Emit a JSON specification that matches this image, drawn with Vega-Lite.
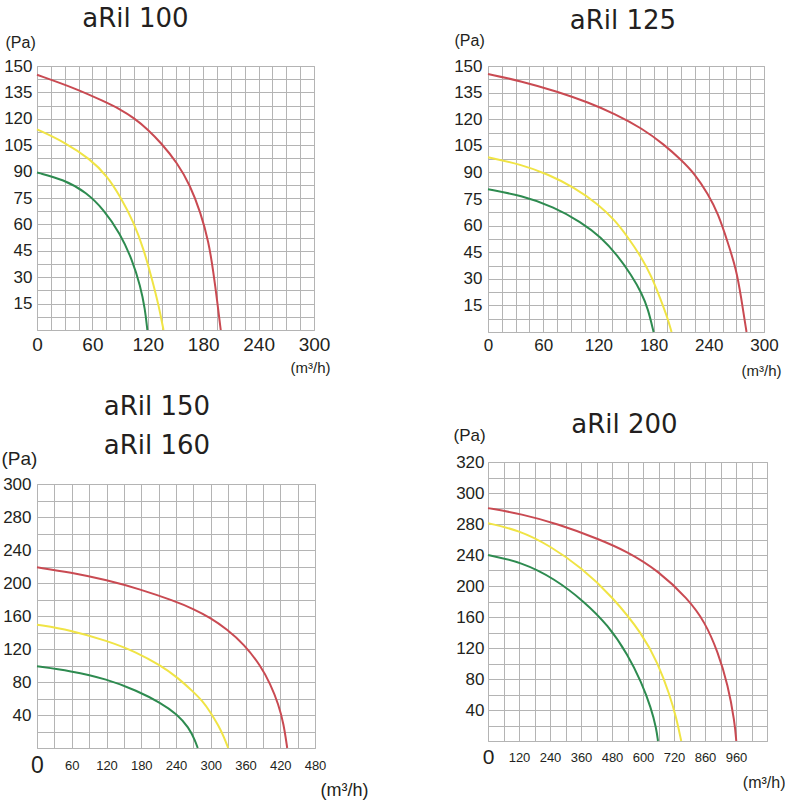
{
  "$schema": "https://vega.github.io/schema/vega-lite/v6.json",
  "background": "white",
  "padding": {"left": 0, "top": 5, "right": 0, "bottom": 0},
  "datasets": {
    "aril100": [
      {"q": 0, "p": 145, "s": "red"}, {"q": 43, "p": 137, "s": "red"}, {"q": 72, "p": 130, "s": "red"}, {"q": 90, "p": 125.5, "s": "red"}, {"q": 105, "p": 120.5, "s": "red"}, {"q": 120, "p": 114, "s": "red"}, {"q": 134, "p": 106.5, "s": "red"}, {"q": 152, "p": 95, "s": "red"}, {"q": 166, "p": 82, "s": "red"}, {"q": 177, "p": 67, "s": "red"}, {"q": 186, "p": 50, "s": "red"}, {"q": 191, "p": 33, "s": "red"}, {"q": 195, "p": 17, "s": "red"}, {"q": 199, "p": 0, "s": "red"},
      {"q": 0, "p": 114, "s": "yellow"}, {"q": 29, "p": 107, "s": "yellow"}, {"q": 58, "p": 97, "s": "yellow"}, {"q": 76, "p": 87.5, "s": "yellow"}, {"q": 90, "p": 76, "s": "yellow"}, {"q": 105, "p": 61, "s": "yellow"}, {"q": 115.5, "p": 46, "s": "yellow"}, {"q": 124.5, "p": 29, "s": "yellow"}, {"q": 132, "p": 13.5, "s": "yellow"}, {"q": 137, "p": 0, "s": "yellow"},
      {"q": 0, "p": 89.5, "s": "green"}, {"q": 29, "p": 85.5, "s": "green"}, {"q": 54, "p": 78, "s": "green"}, {"q": 72, "p": 68.5, "s": "green"}, {"q": 90, "p": 55, "s": "green"}, {"q": 103, "p": 40, "s": "green"}, {"q": 112, "p": 25, "s": "green"}, {"q": 117, "p": 12, "s": "green"}, {"q": 119.5, "p": 0, "s": "green"}
    ],
    "aril125": [
      {"q": 0, "p": 145.5, "s": "red"}, {"q": 36, "p": 141.5, "s": "red"}, {"q": 76, "p": 135.5, "s": "red"}, {"q": 109, "p": 129.5, "s": "red"}, {"q": 138, "p": 123, "s": "red"}, {"q": 167, "p": 115, "s": "red"}, {"q": 192, "p": 105.5, "s": "red"}, {"q": 210, "p": 97, "s": "red"}, {"q": 225, "p": 89, "s": "red"}, {"q": 239, "p": 78, "s": "red"}, {"q": 250, "p": 67, "s": "red"}, {"q": 261, "p": 50, "s": "red"}, {"q": 270, "p": 35, "s": "red"}, {"q": 275, "p": 20, "s": "red"}, {"q": 281, "p": 0, "s": "red"},
      {"q": 0, "p": 98.5, "s": "yellow"}, {"q": 36, "p": 94.5, "s": "yellow"}, {"q": 65, "p": 89, "s": "yellow"}, {"q": 94, "p": 81.5, "s": "yellow"}, {"q": 120, "p": 72, "s": "yellow"}, {"q": 138, "p": 63, "s": "yellow"}, {"q": 152, "p": 53.5, "s": "yellow"}, {"q": 167, "p": 42, "s": "yellow"}, {"q": 177.5, "p": 31.5, "s": "yellow"}, {"q": 186.5, "p": 20, "s": "yellow"}, {"q": 195.5, "p": 7.5, "s": "yellow"}, {"q": 199.5, "p": 0, "s": "yellow"},
      {"q": 0, "p": 80.5, "s": "green"}, {"q": 36, "p": 77, "s": "green"}, {"q": 72, "p": 70.5, "s": "green"}, {"q": 101, "p": 62, "s": "green"}, {"q": 123, "p": 53.5, "s": "green"}, {"q": 141, "p": 43, "s": "green"}, {"q": 156, "p": 32, "s": "green"}, {"q": 167, "p": 22, "s": "green"}, {"q": 174, "p": 13, "s": "green"}, {"q": 180, "p": 0, "s": "green"}
    ],
    "aril150": [
      {"q": 0, "p": 219, "s": "red"}, {"q": 57.5, "p": 213, "s": "red"}, {"q": 121, "p": 203.5, "s": "red"}, {"q": 178, "p": 192.5, "s": "red"}, {"q": 236, "p": 178.5, "s": "red"}, {"q": 270.5, "p": 168.5, "s": "red"}, {"q": 299, "p": 158, "s": "red"}, {"q": 328, "p": 144, "s": "red"}, {"q": 357, "p": 126, "s": "red"}, {"q": 386, "p": 100, "s": "red"}, {"q": 403, "p": 77.5, "s": "red"}, {"q": 417, "p": 53, "s": "red"}, {"q": 426, "p": 29, "s": "red"}, {"q": 432, "p": 0, "s": "red"},
      {"q": 0, "p": 149.5, "s": "yellow"}, {"q": 57.5, "p": 143, "s": "yellow"}, {"q": 121, "p": 130, "s": "yellow"}, {"q": 172.5, "p": 116, "s": "yellow"}, {"q": 213, "p": 100, "s": "yellow"}, {"q": 242, "p": 86, "s": "yellow"}, {"q": 270, "p": 68, "s": "yellow"}, {"q": 285, "p": 57.5, "s": "yellow"}, {"q": 299, "p": 44, "s": "yellow"}, {"q": 313.5, "p": 27, "s": "yellow"}, {"q": 323, "p": 13, "s": "yellow"}, {"q": 330, "p": 0, "s": "yellow"},
      {"q": 0, "p": 99, "s": "green"}, {"q": 57.5, "p": 93.5, "s": "green"}, {"q": 121, "p": 83.5, "s": "green"}, {"q": 172.5, "p": 69.5, "s": "green"}, {"q": 213, "p": 55, "s": "green"}, {"q": 242, "p": 41, "s": "green"}, {"q": 262, "p": 25, "s": "green"}, {"q": 273, "p": 9, "s": "green"}, {"q": 277.5, "p": 0, "s": "green"}
    ],
    "aril200": [
      {"q": 0, "p": 300.5, "s": "red"}, {"q": 129, "p": 293, "s": "red"}, {"q": 271, "p": 280, "s": "red"}, {"q": 426, "p": 261, "s": "red"}, {"q": 542, "p": 244, "s": "red"}, {"q": 658, "p": 220, "s": "red"}, {"q": 774, "p": 183.5, "s": "red"}, {"q": 839, "p": 154, "s": "red"}, {"q": 890, "p": 115, "s": "red"}, {"q": 929, "p": 72, "s": "red"}, {"q": 955, "p": 24.5, "s": "red"}, {"q": 961, "p": 0, "s": "red"},
      {"q": 0, "p": 281, "s": "yellow"}, {"q": 120, "p": 272, "s": "yellow"}, {"q": 240, "p": 252, "s": "yellow"}, {"q": 360, "p": 224, "s": "yellow"}, {"q": 480, "p": 187, "s": "yellow"}, {"q": 600, "p": 137, "s": "yellow"}, {"q": 658, "p": 100, "s": "yellow"}, {"q": 703, "p": 60, "s": "yellow"}, {"q": 729, "p": 30, "s": "yellow"}, {"q": 748, "p": 0, "s": "yellow"},
      {"q": 0, "p": 240, "s": "green"}, {"q": 129, "p": 231, "s": "green"}, {"q": 258, "p": 209.5, "s": "green"}, {"q": 374, "p": 179.5, "s": "green"}, {"q": 464.5, "p": 149.5, "s": "green"}, {"q": 542, "p": 111, "s": "green"}, {"q": 593.5, "p": 76, "s": "green"}, {"q": 632, "p": 42, "s": "green"}, {"q": 651.5, "p": 16, "s": "green"}, {"q": 658, "p": 0, "s": "green"}
    ]
  },
  "config": {
    "view": {"stroke": "#b4b4b4"},
    "axis": {
      "domain": false, "ticks": false, "grid": true, "gridColor": "#b4b4b4", "gridWidth": 1,
      "labelFont": "Liberation Sans", "labelColor": "#231f20", "labelFlush": false, "labelOverlap": false, "labelBound": false,
      "titleFont": "Liberation Sans", "titleFontWeight": "normal", "titleColor": "#231f20", "titleAngle": 0, "format": "d"
    },
    "title": {"font": "DejaVu Sans", "fontSize": 26, "fontWeight": "normal", "color": "#231f20", "frame": "group", "baseline": "alphabetic", "anchor": "middle"},
    "line": {"interpolate": "basis", "strokeWidth": 2}
  },
  "hconcat": [
    {
      "spacing": 17,
      "vconcat": [
        {
          "width": 277, "height": 264,
          "title": {"text": "aRil 100", "offset": 2, "dx": -40},
          "data": {"name": "aril100"},
          "mark": "line",
          "encoding": {
            "x": {"field": "q", "type": "quantitative", "scale": {"domain": [0, 300], "nice": false},
              "axis": {"values": [0,15,30,45,60,75,90,105,120,135,150,165,180,195,210,225,240,255,270,285,300],
                "labelExpr": "datum.value % 60 == 0 ? datum.label : ''", "labelFontSize": 19, "labelBaseline": "middle", "labelPadding": 14,
                "title": "(m³/h)", "titleFontSize": 15, "titleX": 293, "titleY": 37, "titleAlign": "right", "titleBaseline": "middle"}},
            "y": {"field": "p", "type": "quantitative", "scale": {"domain": [0, 150], "nice": false},
              "axis": {"values": [0,7.5,15,22.5,30,37.5,45,52.5,60,67.5,75,82.5,90,97.5,105,112.5,120,127.5,135,142.5,150],
                "labelExpr": "datum.value % 15 == 0 && datum.value > 0 ? datum.label : ''", "labelFontSize": 17, "labelPadding": 5,
                "title": "(Pa)", "titleFontSize": 16, "titleX": -32, "titleY": -24, "titleAlign": "left", "titleBaseline": "middle"}},
            "color": {"field": "s", "type": "nominal", "scale": {"domain": ["red", "yellow", "green"], "range": ["#c94a52", "#f0e445", "#2e8b50"]}, "legend": null}
          }
        },
        {
          "width": 278, "height": 264,
          "title": {"text": ["aRil 150", "aRil 160"], "lineHeight": 39, "offset": -10, "dx": -19},
          "data": {"name": "aril150"},
          "mark": "line",
          "encoding": {
            "x": {"field": "q", "type": "quantitative", "scale": {"domain": [0, 480], "nice": false},
              "axis": {"values": [0,30,60,90,120,150,180,210,240,270,300,330,360,390,420,450,480],
                "labelExpr": "datum.value % 60 == 0 ? datum.label : ''",
                "labelFontSize": {"condition": {"test": "datum.value == 0", "value": 23}, "value": 13},
                "labelBaseline": "middle", "labelPadding": 17,
                "title": "(m³/h)", "titleFontSize": 18, "titleX": 331, "titleY": 42, "titleAlign": "right", "titleBaseline": "middle"}},
            "y": {"field": "p", "type": "quantitative", "scale": {"domain": [0, 320], "nice": false},
              "axis": {"values": [0,20,40,60,80,100,120,140,160,180,200,220,240,260,280,300,320],
                "labelExpr": "datum.value == 320 ? '300' : (datum.value % 40 == 0 && datum.value > 0 ? datum.label : '')",
                "labelFontSize": 17, "labelPadding": 6,
                "title": "(Pa)", "titleFontSize": 19, "titleX": -36, "titleY": -26, "titleAlign": "left", "titleBaseline": "middle"}},
            "color": {"field": "s", "type": "nominal", "scale": {"domain": ["red", "yellow", "green"], "range": ["#c94a52", "#f0e445", "#2e8b50"]}, "legend": null}
          }
        }
      ]
    },
    {
      "spacing": 32,
      "vconcat": [
        {
          "width": 276, "height": 266,
          "title": {"text": "aRil 125", "offset": -2, "dx": -3},
          "data": {"name": "aril125"},
          "mark": "line",
          "encoding": {
            "x": {"field": "q", "type": "quantitative", "scale": {"domain": [0, 300], "nice": false},
              "axis": {"values": [0,15,30,45,60,75,90,105,120,135,150,165,180,195,210,225,240,255,270,285,300],
                "labelExpr": "datum.value % 60 == 0 ? datum.label : ''", "labelFontSize": 17, "labelBaseline": "middle", "labelPadding": 13,
                "title": "(m³/h)", "titleFontSize": 15, "titleX": 293, "titleY": 38, "titleAlign": "right", "titleBaseline": "middle"}},
            "y": {"field": "p", "type": "quantitative", "scale": {"domain": [0, 150], "nice": false},
              "axis": {"values": [0,7.5,15,22.5,30,37.5,45,52.5,60,67.5,75,82.5,90,97.5,105,112.5,120,127.5,135,142.5,150],
                "labelExpr": "datum.value % 15 == 0 && datum.value > 0 ? datum.label : ''", "labelFontSize": 17, "labelPadding": 6,
                "title": "(Pa)", "titleFontSize": 16, "titleX": -34, "titleY": -26, "titleAlign": "left", "titleBaseline": "middle"}},
            "color": {"field": "s", "type": "nominal", "scale": {"domain": ["red", "yellow", "green"], "range": ["#c94a52", "#f0e445", "#2e8b50"]}, "legend": null}
          }
        },
        {
          "width": 279, "height": 279,
          "title": {"text": "aRil 200", "offset": -12, "dx": -3},
          "data": {"name": "aril200"},
          "mark": "line",
          "encoding": {
            "x": {"field": "q", "type": "quantitative", "scale": {"domain": [0, 1080], "nice": false},
              "axis": {"values": [0,60,120,180,240,300,360,420,480,540,600,660,720,780,840,900,960,1020,1080],
                "labelExpr": "datum.value == 840 ? '860' : (datum.value % 120 == 0 && datum.value <= 960 ? datum.label : '')",
                "labelFontSize": {"condition": {"test": "datum.value == 0", "value": 21}, "value": 13},
                "labelBaseline": "middle", "labelPadding": 16,
                "title": "(m³/h)", "titleFontSize": 16, "titleX": 297, "titleY": 41, "titleAlign": "right", "titleBaseline": "middle"}},
            "y": {"field": "p", "type": "quantitative", "scale": {"domain": [0, 360], "nice": false},
              "axis": {"values": [0,20,40,60,80,100,120,140,160,180,200,220,240,260,280,300,320,340,360],
                "labelExpr": "datum.value == 360 ? '320' : (datum.value == 320 ? '300' : (datum.value % 40 == 0 && datum.value > 0 && datum.value <= 280 ? datum.label : ''))",
                "labelFontSize": 17, "labelPadding": 4,
                "title": "(Pa)", "titleFontSize": 17, "titleX": -35, "titleY": -27, "titleAlign": "left", "titleBaseline": "middle"}},
            "color": {"field": "s", "type": "nominal", "scale": {"domain": ["red", "yellow", "green"], "range": ["#c94a52", "#f0e445", "#2e8b50"]}, "legend": null}
          }
        }
      ]
    }
  ],
  "spacing": 83
}
